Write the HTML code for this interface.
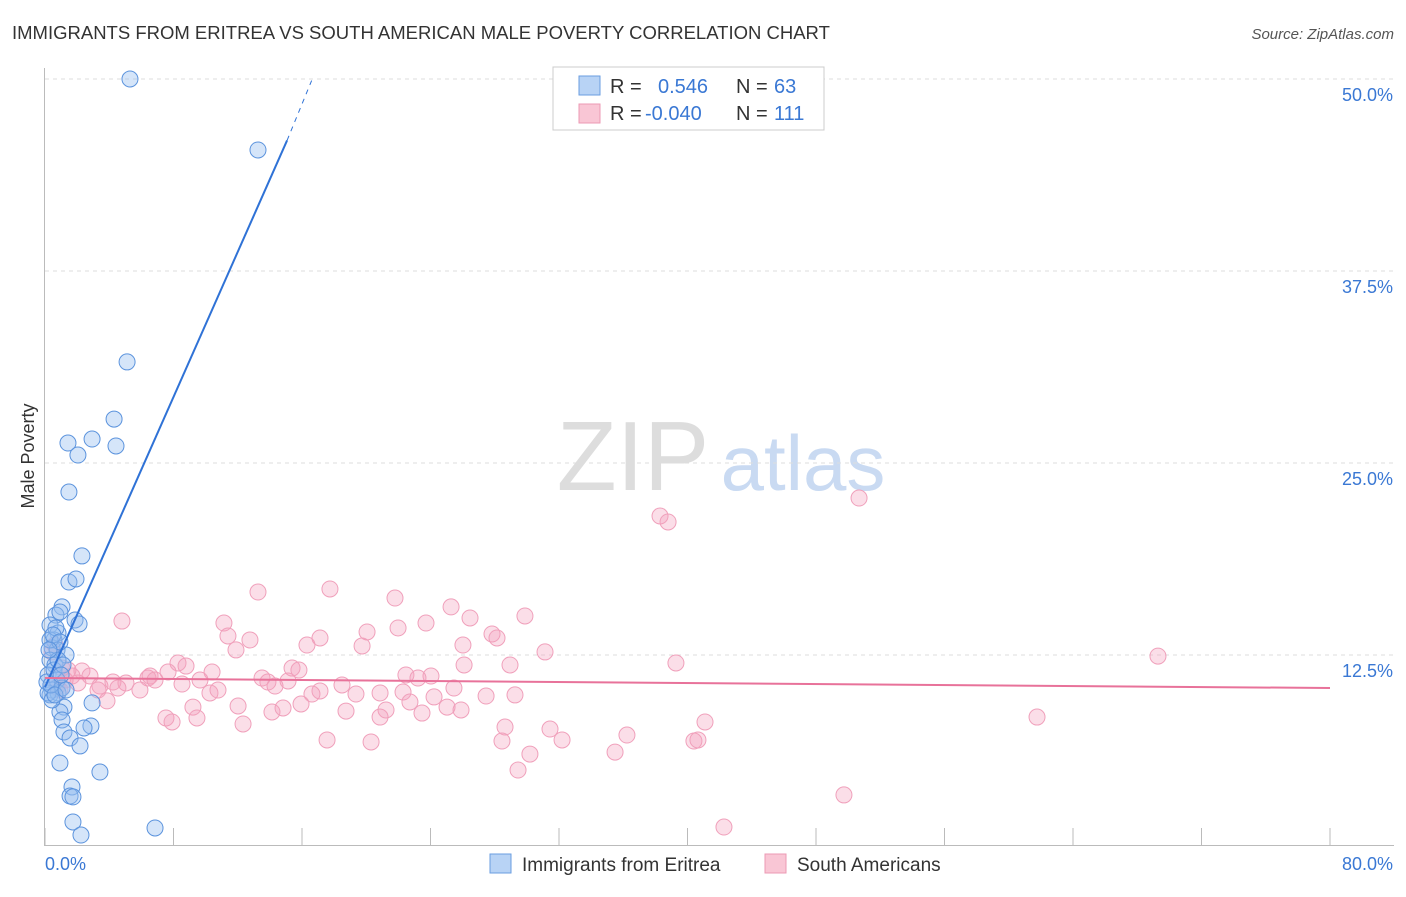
<!DOCTYPE html>
<html><head><meta charset="utf-8">
<style>
body{margin:0;background:#fff;font-family:"Liberation Sans",sans-serif;}
svg text{font-family:"Liberation Sans",sans-serif;}
</style></head>
<body>
<svg id="chart" width="1406" height="892" xmlns="http://www.w3.org/2000/svg">
<text x="12" y="39" font-size="18.5" fill="#333">IMMIGRANTS FROM ERITREA VS SOUTH AMERICAN MALE POVERTY CORRELATION CHART</text>
<text x="1394" y="39" font-size="15" fill="#555" text-anchor="end" font-style="italic">Source: ZipAtlas.com</text>
<text x="34" y="456" font-size="18" fill="#333" text-anchor="middle" transform="rotate(-90 34 456)">Male Poverty</text>
<g>
<text x="633" y="490" font-size="98" font-family="Liberation Serif" fill="#ddd" text-anchor="middle">ZIP</text>
<text x="803" y="490" font-size="78" fill="#c9daf2" text-anchor="middle">atlas</text>
</g>
<g id="grid"></g>
<g id="axes"></g>
<g id="pts"></g>
<g id="lines"></g>
<g>
<rect x="553" y="67" width="271" height="63" fill="#fff" stroke="#ccc"/>
<rect x="579" y="76" width="21" height="19" fill="#b8d3f5" stroke="#6a9ee0"/>
<rect x="579" y="104" width="21" height="19" fill="#f9c6d5" stroke="#ec9ab4"/>
<text x="610" y="93" font-size="20" fill="#333">R = </text>
<text x="658" y="93" font-size="20" fill="#3a78d4">0.546</text>
<text x="736" y="93" font-size="20" fill="#333">N = </text>
<text x="774" y="93" font-size="20" fill="#3a78d4">63</text>
<text x="610" y="120" font-size="20" fill="#333">R = </text>
<text x="645" y="120" font-size="20" fill="#3a78d4">-0.040</text>
<text x="736" y="120" font-size="20" fill="#333">N = </text>
<text x="774" y="120" font-size="20" fill="#3a78d4">111</text>
</g>
<g>
<rect x="490" y="854" width="21" height="19" fill="#b8d3f5" stroke="#6a9ee0"/>
<text x="522" y="871" font-size="19" fill="#333">Immigrants from Eritrea</text>
<rect x="765" y="854" width="21" height="19" fill="#f9c6d5" stroke="#ec9ab4"/>
<text x="797" y="871" font-size="19" fill="#333">South Americans</text>
</g>
</svg>
<script>
const yTicks=[12.5,25,37.5,50];
const yTickLabels=["12.5%","25.0%","37.5%","50.0%"];
const xTicks=[0,8,16,24,32,40,48,56,64,72,80];
const bluePx=[[130,79],[258,150],[127,362],[114,419],[92,439],[116,446],[68,443],[78,455],[69,492],[82,556],[69,582],[76,579],[62,607],[56,615],[60,612],[75,620],[79,624],[50,625],[58,633],[54,640],[52,648],[57,650],[66,655],[50,660],[55,665],[48,675],[57,680],[52,690],[50,695],[58,693],[62,688],[92,703],[64,707],[60,712],[62,720],[64,732],[91,726],[84,728],[70,738],[80,746],[100,772],[60,763],[72,787],[70,796],[73,797],[73,822],[81,835],[155,828],[48,693],[52,700],[47,682],[54,670],[58,660],[63,665],[50,640],[56,628],[53,635],[60,642],[49,650],[51,685],[55,695],[61,675],[66,690]];
const pinkPx=[[859,498],[660,516],[668,522],[1158,656],[1037,717],[844,795],[724,827],[330,589],[258,592],[395,598],[451,607],[525,616],[470,618],[122,621],[224,623],[426,623],[398,628],[492,634],[497,638],[367,632],[228,636],[250,640],[320,638],[307,645],[362,646],[236,650],[545,652],[463,645],[178,663],[186,666],[212,672],[292,668],[299,670],[464,665],[510,665],[676,663],[406,675],[431,676],[418,678],[168,672],[150,676],[82,671],[90,676],[72,676],[65,680],[78,683],[100,686],[113,682],[126,683],[148,678],[155,680],[200,680],[182,684],[262,678],[268,682],[288,681],[320,691],[312,694],[342,685],[356,694],[380,693],[403,692],[454,688],[486,696],[515,695],[434,697],[275,686],[98,690],[118,688],[140,690],[210,693],[218,690],[238,706],[193,707],[166,718],[172,722],[197,718],[243,724],[272,712],[283,708],[301,704],[346,711],[386,710],[380,717],[410,702],[422,713],[447,707],[461,710],[505,727],[550,729],[562,740],[627,735],[705,722],[502,741],[694,741],[698,740],[327,740],[371,742],[530,754],[518,770],[615,752],[107,701],[57,687],[60,690],[52,652],[55,645],[62,668],[68,670]];
const blueX=bluePx.map(p=>+((p[0]-45)/16.0625).toFixed(2));
const blueY=bluePx.map(p=>+((847-p[1])/15.36).toFixed(2));
const pinkX=pinkPx.map(p=>+((p[0]-45)/16.0625).toFixed(2));
const pinkY=pinkPx.map(p=>+((847-p[1])/15.36).toFixed(2));
const blueTrend=[[0,10.4],[15.07,46.0],[16.6,49.9]];
const pinkTrend=[[0,11.0],[80,10.35]];

const X=v=>45+v*16.0625, Y=v=>847-v*15.36;
const NS="http://www.w3.org/2000/svg";
function mk(t,a,parent){const e=document.createElementNS(NS,t);for(const k in a)e.setAttribute(k,a[k]);document.getElementById(parent).appendChild(e);return e;}
yTicks.forEach((v,i)=>{
 const l=mk('line',{x1:45,x2:1394,y1:Y(v),y2:Y(v),stroke:'#ddd','stroke-dasharray':'4,4'},'grid');
 
 
 const t=mk('text',{x:1393,y:Y(v)+22,'font-size':18,fill:'#3a78d4','text-anchor':'end'},'axes');
 t.textContent=yTickLabels[i];
 
 
});
const ax=mk('line',{x1:44.5,x2:44.5,y1:68,y2:846,stroke:'#bbb'},'axes');


const bx=mk('line',{x1:45,x2:1394,y1:845.5,y2:845.5,stroke:'#bbb'},'axes');


xTicks.forEach(v=>{
 const t=mk('line',{x1:X(v),x2:X(v),y1:828,y2:846,stroke:'#bbb'},'axes');
 
 
});
const xl0=mk('text',{x:45,y:870,'font-size':18,fill:'#3a78d4'},'axes');xl0.textContent="0.0%";


const xl1=mk('text',{x:1393,y:870,'font-size':18,fill:'#3a78d4','text-anchor':'end'},'axes');xl1.textContent="80.0%";


pinkX.forEach((x,i)=>{
 const c=mk('circle',{cx:X(x),cy:Y(pinkY[i]),r:8,fill:'rgba(244,160,188,0.35)',stroke:'#f0a0bb','stroke-width':1},'pts');
 
 
});
blueX.forEach((x,i)=>{
 const c=mk('circle',{cx:X(x),cy:Y(blueY[i]),r:8,fill:'rgba(150,190,240,0.4)',stroke:'#5b93dd','stroke-width':1},'pts');
 
 
});
const b1=mk('line',{x1:X(blueTrend[0][0]),y1:Y(blueTrend[0][1]),x2:X(blueTrend[1][0]),y2:Y(blueTrend[1][1]),stroke:'#2f72d6','stroke-width':2},'lines');


const b2=mk('line',{x1:X(blueTrend[1][0]),y1:Y(blueTrend[1][1]),x2:X(blueTrend[2][0]),y2:Y(blueTrend[2][1]),stroke:'#2f72d6','stroke-width':1,'stroke-dasharray':'5,5'},'lines');


const p1=mk('line',{x1:X(pinkTrend[0][0]),y1:Y(pinkTrend[0][1]),x2:X(pinkTrend[1][0]),y2:Y(pinkTrend[1][1]),stroke:'#e8729a','stroke-width':2},'lines');


</script>
</body></html>
